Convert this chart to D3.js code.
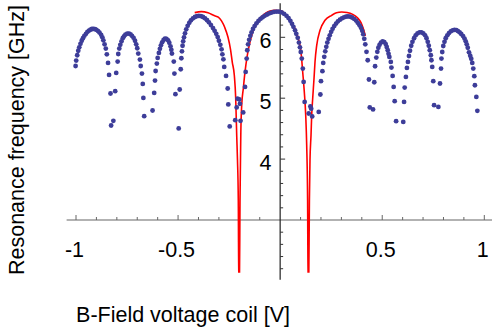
<!DOCTYPE html>
<html>
<head>
<meta charset="utf-8">
<script src="https://cdn.jsdelivr.net/npm/d3@7/dist/d3.min.js"></script>
<style>
  body { margin: 0; background: #fff; }
  text { font-family: "Liberation Sans", Arial, sans-serif; fill: #000; }
</style>
</head>
<body>
<svg id="chart" width="492" height="330"></svg>
<script>
// measured resonance, one array per lobe: [coil voltage V, frequency GHz]
var lobeA = [[-1.002,5.529],[-0.999,5.618],[-0.994,5.705],[-0.989,5.779],[-0.984,5.836],[-0.978,5.893],[-0.972,5.943],[-0.966,5.984],[-0.959,6.025],[-0.951,6.057],[-0.944,6.090],[-0.936,6.110],[-0.929,6.126],[-0.922,6.136],[-0.914,6.139],[-0.907,6.134],[-0.900,6.123],[-0.892,6.103],[-0.885,6.077],[-0.877,6.041],[-0.871,6.000],[-0.866,5.951],[-0.860,5.885],[-0.854,5.815],[-0.849,5.721],[-0.843,5.579],[-0.838,5.382],[-0.831,5.077],[-0.828,4.552]];
var lobeB = [[-0.817,4.628],[-0.808,5.115],[-0.803,5.415],[-0.796,5.602],[-0.793,5.726],[-0.788,5.815],[-0.783,5.877],[-0.777,5.934],[-0.771,5.984],[-0.765,6.016],[-0.758,6.044],[-0.749,6.061],[-0.740,6.061],[-0.733,6.049],[-0.726,6.025],[-0.718,5.992],[-0.711,5.943],[-0.705,5.885],[-0.700,5.820],[-0.695,5.733],[-0.687,5.634],[-0.683,5.529],[-0.677,5.405],[-0.673,5.234],[-0.670,5.005],[-0.666,4.705]];
var lobeC = [[-0.625,4.798],[-0.617,5.087],[-0.613,5.290],[-0.610,5.447],[-0.604,5.569],[-0.600,5.661],[-0.594,5.743],[-0.589,5.811],[-0.584,5.869],[-0.578,5.918],[-0.571,5.956],[-0.564,5.979],[-0.557,5.975],[-0.549,5.951],[-0.543,5.910],[-0.537,5.852],[-0.533,5.795],[-0.530,5.733],[-0.521,5.602],[-0.518,5.405],[-0.513,5.066],[-0.497,4.503]];
var lobeD = [[-0.492,5.143],[-0.487,5.475],[-0.484,5.656],[-0.481,5.770],[-0.478,5.861],[-0.475,5.934],[-0.471,6.000],[-0.466,6.066],[-0.460,6.131],[-0.453,6.188],[-0.445,6.238],[-0.437,6.279],[-0.427,6.311],[-0.417,6.333],[-0.407,6.347],[-0.398,6.352],[-0.388,6.347],[-0.378,6.333],[-0.368,6.311],[-0.358,6.282],[-0.349,6.246],[-0.339,6.200],[-0.329,6.151],[-0.321,6.106],[-0.313,6.057],[-0.306,6.003],[-0.300,5.943],[-0.293,5.877],[-0.287,5.803],[-0.283,5.721],[-0.278,5.639],[-0.274,5.513],[-0.265,5.366],[-0.257,5.159],[-0.254,4.897],[-0.247,4.536]];
var dipLeft = [[-0.220,4.639],[-0.213,4.848],[-0.209,4.992],[-0.200,4.979],[-0.197,4.907],[-0.194,4.628],[-0.181,4.766]];
var lobeE = [[-0.172,5.185],[-0.169,5.431],[-0.164,5.651],[-0.161,5.787],[-0.157,5.885],[-0.152,5.959],[-0.146,6.025],[-0.140,6.082],[-0.133,6.136],[-0.125,6.185],[-0.116,6.229],[-0.106,6.270],[-0.096,6.303],[-0.086,6.328],[-0.076,6.352],[-0.064,6.374],[-0.053,6.393],[-0.042,6.406],[-0.030,6.418],[-0.018,6.423],[-0.006,6.421],[0.007,6.410],[0.019,6.385],[0.031,6.352],[0.041,6.315],[0.050,6.270],[0.058,6.221],[0.065,6.172],[0.073,6.115],[0.079,6.057],[0.086,5.992],[0.092,5.913],[0.097,5.836],[0.101,5.759],[0.106,5.651],[0.111,5.487],[0.115,5.267],[0.120,4.939]];
var dipRight = [[0.140,4.749],[0.148,4.864],[0.152,4.828],[0.157,4.700]];
var lobeF = [[0.189,4.775],[0.197,5.061],[0.200,5.279],[0.207,5.443],[0.211,5.579],[0.216,5.680],[0.221,5.770],[0.226,5.844],[0.231,5.913],[0.237,5.975],[0.243,6.033],[0.250,6.090],[0.257,6.139],[0.265,6.184],[0.274,6.225],[0.283,6.262],[0.293,6.290],[0.303,6.311],[0.313,6.328],[0.323,6.339],[0.332,6.344],[0.342,6.339],[0.352,6.325],[0.362,6.303],[0.372,6.274],[0.380,6.238],[0.389,6.197],[0.396,6.156],[0.402,6.106],[0.407,6.049],[0.412,5.975],[0.417,5.885],[0.423,5.762],[0.429,5.623],[0.435,5.307],[0.439,4.848]];
var lobeG = [[0.455,4.815],[0.461,5.262],[0.465,5.525],[0.471,5.667],[0.476,5.762],[0.481,5.828],[0.487,5.877],[0.494,5.913],[0.502,5.931],[0.510,5.921],[0.517,5.888],[0.522,5.841],[0.527,5.787],[0.531,5.729],[0.535,5.677],[0.542,5.595],[0.545,5.503],[0.551,5.366],[0.556,5.185],[0.561,4.951],[0.568,4.623]];
var lobeH = [[0.603,4.611],[0.607,4.939],[0.610,5.175],[0.616,5.349],[0.621,5.497],[0.626,5.595],[0.631,5.693],[0.636,5.779],[0.642,5.861],[0.648,5.926],[0.656,5.984],[0.664,6.033],[0.673,6.066],[0.683,6.082],[0.692,6.082],[0.701,6.066],[0.710,6.033],[0.717,5.984],[0.723,5.926],[0.728,5.861],[0.733,5.787],[0.738,5.705],[0.741,5.623],[0.745,5.513],[0.750,5.279],[0.754,4.885]];
var lobeI = [[0.775,4.857],[0.783,5.241],[0.788,5.487],[0.790,5.651],[0.794,5.759],[0.799,5.857],[0.805,5.926],[0.811,5.984],[0.819,6.033],[0.827,6.070],[0.836,6.098],[0.845,6.115],[0.854,6.123],[0.863,6.118],[0.871,6.103],[0.879,6.082],[0.887,6.054],[0.896,6.020],[0.903,5.979],[0.909,5.934],[0.914,5.885],[0.919,5.828],[0.925,5.754],[0.931,5.697],[0.936,5.648],[0.941,5.579],[0.946,5.487],[0.951,5.361],[0.954,5.213],[0.961,5.021],[0.966,4.792]];

// model curve
var modelV = [-0.4186,-0.3863,-0.3534,-0.3206,-0.303,-0.2873,-0.2716,-0.2554,-0.2432,-0.2344,-0.2245,-0.2177,-0.2128,-0.2090,-0.2050,-0.2026,-0.1996,-0.1966,-0.1943,-0.1928,-0.1883,-0.1805,-0.1722,-0.1609,-0.1477,-0.1315,-0.1070,-0.0742,-0.0497,-0.0252,0.0041,0.0400,0.0728,0.0889,0.1022,0.1105,0.1183,0.1252,0.1300,0.1345,0.1369,0.1398,0.1433,0.1462,0.1512,0.1545,0.1594,0.1659,0.1707,0.1791,0.1952,0.2197,0.2525,0.2759,0.3015,0.3275,0.3554,0.3789,0.3960,0.4083,0.4171];
var modelF = [6.405,6.421,6.402,6.352,6.330,6.270,6.164,6.000,5.803,5.590,5.377,4.995,4.393,3.984,3.328,1.9,1.9,3.328,3.984,4.393,4.885,5.159,5.431,5.705,5.923,6.115,6.279,6.389,6.431,6.443,6.434,6.320,6.143,5.979,5.759,5.431,5.103,4.721,4.230,3.328,1.9,1.9,3.328,3.984,4.393,4.721,4.995,5.323,5.595,5.869,6.115,6.279,6.361,6.402,6.415,6.407,6.377,6.320,6.241,6.131,6.021];

var xTickLabels = ['-1', '-0.5', '0.5', '1'];
var xTickValues = [-1, -0.5, 0.5, 1];
var yTickValues = [4, 5, 6];

var xTitle = 'B-Field voltage coil [V]';
var yTitle = 'Resonance frequency [GHz]';

var measured = [].concat(lobeA, lobeB, lobeC, lobeD, dipLeft, lobeE, dipRight, lobeF, lobeG, lobeH, lobeI);

var svg = d3.select('#chart');
var x = d3.scaleLinear().domain([-1, 1]).range([76, 484.3]);
var y = d3.scaleLinear().domain([3, 6]).range([220, 37.3]);

svg.append('rect').attr('width', 492).attr('height', 330).attr('fill', '#fff');

svg.append('clipPath').attr('id', 'plotclip')
  .append('rect')
  .attr('x', x(-1.05)).attr('y', y(6.6))
  .attr('width', x(1.05) - x(-1.05))
  .attr('height', y(2.135) - y(6.6));

// axes
var axisX = svg.append('g');
axisX.append('line')
  .attr('x1', x(-1.046)).attr('x2', x(1.05))
  .attr('y1', y(3)).attr('y2', y(3))
  .attr('stroke', '#666').attr('stroke-width', 1.2);
axisX.selectAll('line.tick')
  .data(x.ticks(20).filter(function(d) { return Math.abs(d) > 1e-9; }))
  .enter().append('line')
  .attr('class', 'tick')
  .attr('x1', function(d) { return x(d); }).attr('x2', function(d) { return x(d); })
  .attr('y1', y(3))
  .attr('y2', function(d) { return y(3) - (Math.abs(d * 2 - Math.round(d * 2)) < 1e-9 ? 5 : 3); })
  .attr('stroke', '#666').attr('stroke-width', 1);
axisX.selectAll('text')
  .data(xTickValues)
  .enter().append('text')
  .attr('x', function(d) { return x(d) - 1.5; })
  .attr('y', 257)
  .attr('text-anchor', 'middle')
  .attr('font-size', 21.5)
  .text(function(d, i) { return xTickLabels[i]; });

var axisY = svg.append('g');
axisY.append('line')
  .attr('x1', x(0)).attr('x2', x(0))
  .attr('y1', y(6.56)).attr('y2', y(2.02))
  .attr('stroke', '#222').attr('stroke-width', 1.2);
axisY.selectAll('line.tick')
  .data(d3.ticks(2.2, 6.4, 21).filter(function(d) { return Math.abs(d - 3) > 1e-9; }))
  .enter().append('line')
  .attr('class', 'tick')
  .attr('y1', function(d) { return y(d); }).attr('y2', function(d) { return y(d); })
  .attr('x1', x(0))
  .attr('x2', function(d) { return x(0) + (Math.abs(d - Math.round(d)) < 1e-9 ? 5 : 3); })
  .attr('stroke', '#333').attr('stroke-width', 1);
axisY.selectAll('text')
  .data(yTickValues)
  .enter().append('text')
  .attr('x', 271.5)
  .attr('y', function(d) { return y(d) + 11; })
  .attr('text-anchor', 'end')
  .attr('font-size', 21.5)
  .text(function(d) { return d; });

// model line under the points
var model = modelV.map(function(v, i) { return [v, modelF[i]]; });
svg.append('path')
  .datum(model)
  .attr('clip-path', 'url(#plotclip)')
  .attr('fill', 'none')
  .attr('stroke', '#ff0000')
  .attr('stroke-width', 1.6)
  .attr('d', d3.line()
    .x(function(d) { return x(d[0]); })
    .y(function(d) { return y(d[1]); })
    .curve(d3.curveMonotoneX));

svg.append('g')
  .selectAll('circle')
  .data(measured)
  .enter().append('circle')
  .attr('cx', function(d) { return x(d[0]); })
  .attr('cy', function(d) { return y(d[1]); })
  .attr('r', 2.4)
  .attr('fill', '#3d3d99');

// titles
svg.append('text')
  .attr('x', 183).attr('y', 322)
  .attr('text-anchor', 'middle')
  .attr('font-size', 21.5)
  .text(xTitle);

svg.append('text')
  .attr('transform', 'translate(24,140) rotate(-90)')
  .attr('text-anchor', 'middle')
  .attr('font-size', 21.5)
  .text(yTitle);
</script>
</body>
</html>
